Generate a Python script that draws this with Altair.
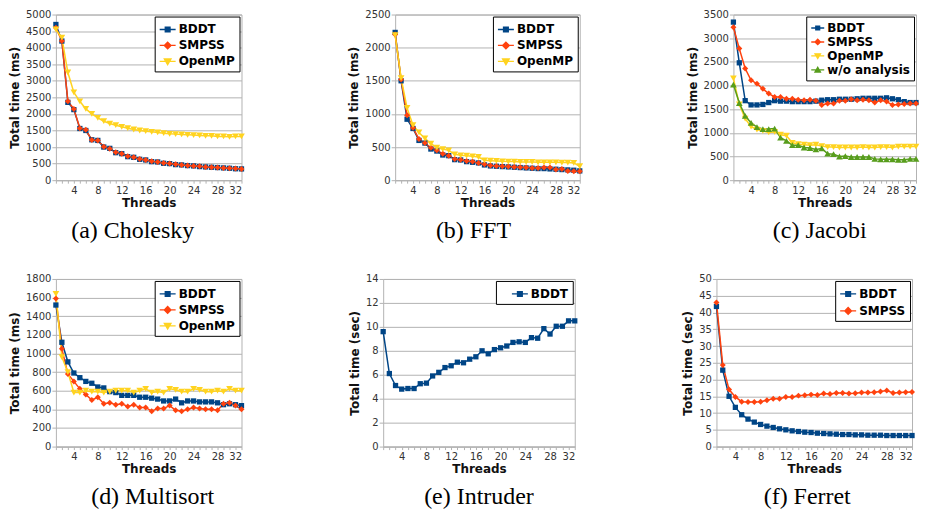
import altair as alt
import pandas as pd

threads = list(range(1, 33))

# (a) Cholesky (ms)
chol_bddt = [4700, 4200, 2350, 2130, 1560, 1500, 1220, 1200, 1000, 960, 830, 800, 710, 690, 630, 610,
             560, 550, 510, 500, 470, 460, 440, 430, 410, 400, 390, 380, 370, 360, 345, 340]
chol_smpss = [4600, 4200, 2380, 2150, 1570, 1520, 1210, 1200, 1010, 950, 840, 800, 720, 690, 640, 610,
              570, 550, 520, 500, 480, 460, 440, 430, 420, 400, 390, 380, 370, 360, 350, 340]
chol_omp = [4550, 4300, 3250, 2650, 2380, 2150, 2000, 1880, 1780, 1710, 1660, 1610, 1570, 1530, 1500, 1480,
            1460, 1440, 1420, 1400, 1390, 1380, 1370, 1360, 1350, 1340, 1340, 1320, 1320, 1310, 1320, 1320]

# (b) FFT (ms)
fft_bddt = [2230, 1500, 920, 780, 600, 560, 470, 440, 380, 370, 310, 305, 280, 270, 260, 230,
            215, 210, 205, 200, 195, 190, 185, 180, 175, 175, 170, 165, 160, 155, 150, 140]
fft_smpss = [2200, 1520, 980, 790, 620, 560, 490, 450, 400, 370, 320, 310, 290, 280, 260, 240,
             220, 215, 210, 205, 200, 195, 190, 185, 185, 190, 190, 160, 170, 140, 135, 135]
fft_omp = [2190, 1540, 1090, 830, 720, 630, 550, 490, 470, 450, 390, 375, 370, 360, 350, 300,
           295, 290, 285, 280, 280, 275, 275, 275, 270, 270, 270, 270, 265, 265, 260, 210]

# (c) Jacobi (ms)
jac_bddt = [3340, 2480, 1680, 1590, 1590, 1600, 1640, 1680, 1670, 1670, 1660, 1660, 1660, 1660, 1670, 1690,
            1700, 1700, 1710, 1710, 1710, 1720, 1730, 1730, 1730, 1730, 1740, 1720, 1700, 1660, 1640, 1640]
jac_smpss = [3230, 2780, 2360, 2110, 2040, 1930, 1830, 1760, 1760, 1720, 1720, 1700, 1690, 1700, 1680, 1590,
             1620, 1620, 1680, 1680, 1710, 1690, 1700, 1690, 1640, 1690, 1660, 1590, 1600, 1610, 1620, 1620]
jac_omp = [2150, 1600, 1300, 1130, 1070, 1040, 1010, 1020, 960, 940, 790, 760, 750, 740, 750, 720,
           700, 700, 690, 690, 690, 690, 700, 690, 690, 700, 700, 690, 710, 710, 710, 710]
jac_woa = [2020, 1630, 1360, 1210, 1120, 1080, 1080, 1090, 900, 830, 740, 740, 690, 680, 650, 670,
           560, 550, 500, 510, 490, 490, 490, 490, 450, 440, 440, 440, 430, 430, 450, 450]

# (d) Multisort (ms)
ms_bddt = [1520, 1120, 910, 790, 740, 700, 680, 640, 630, 590, 580, 550, 550, 550, 530, 530,
           520, 510, 490, 490, 510, 470, 490, 490, 480, 480, 480, 470, 450, 460, 450, 440]
ms_smpss = [1590, 1050, 780, 700, 620, 560, 500, 530, 460, 470, 450, 460, 430, 450, 420, 420,
            380, 410, 410, 440, 390, 380, 400, 420, 410, 400, 400, 390, 460, 470, 440, 400]
ms_omp = [1640, 960, 800, 580, 580, 600, 590, 590, 580, 590, 600, 600, 600, 580, 600, 620,
          580, 590, 580, 620, 610, 590, 590, 620, 610, 590, 590, 600, 590, 620, 600, 600]

# (e) Intruder (sec)
intr_bddt = [9.6, 6.1, 5.1, 4.8, 4.85, 4.85, 5.25, 5.3, 5.9, 6.2, 6.6, 6.75, 7.05, 7.0, 7.3, 7.5,
             8.0, 7.75, 8.1, 8.25, 8.4, 8.7, 8.75, 8.7, 9.1, 9.05, 9.85, 9.4, 10.05, 10.05, 10.5, 10.5]

# (f) Ferret (sec)
fer_bddt = [41.8, 22.8, 15.0, 11.7, 9.5, 8.2, 7.3, 6.6, 6.1, 5.7, 5.3, 5.0, 4.7, 4.5, 4.3, 4.2,
            4.0, 3.9, 3.8, 3.7, 3.6, 3.6, 3.5, 3.5, 3.4, 3.4, 3.4, 3.3, 3.3, 3.3, 3.3, 3.3]
fer_smpss = [43.0, 24.3, 17.0, 14.8, 13.4, 13.3, 13.3, 13.4, 13.8, 14.3, 14.3, 14.8, 14.8, 15.2, 15.3, 15.5,
             15.4, 15.8, 15.7, 16.0, 16.0, 15.8, 15.9, 16.1, 16.1, 16.2, 16.4, 16.7, 16.0, 16.1, 16.2, 16.3]

COLORS = {"BDDT": "#004586", "SMPSS": "#ff420e", "OpenMP": "#ffd320", "w/o analysis": "#579d1c"}
SHAPES = {"BDDT": "square", "SMPSS": "diamond", "OpenMP": "triangle-down", "w/o analysis": "triangle-up"}
MSIZE = {"BDDT": 28, "SMPSS": 36, "OpenMP": 45, "w/o analysis": 45}
PATHS = {
    "BDDT": "M-1,0H1M-0.3,-0.3H0.3V0.3H-0.3Z",
    "SMPSS": "M-1,0H1M0,-0.42L0.42,0L0,0.42L-0.42,0Z",
    "OpenMP": "M-1,0H1M-0.42,-0.32H0.42L0,0.4Z",
    "w/o analysis": "M-1,0H1M-0.42,0.32H0.42L0,-0.4Z",
}


def sig(mapping):
    keys = list(mapping)
    expr = "'%s'" % mapping[keys[-1]]
    for k in reversed(keys[:-1]):
        expr = "datum.value === '%s' ? '%s' : (%s)" % (k, mapping[k], expr)
    return expr


def frange(a, b, s):
    v = a
    out = []
    while v <= b + 1e-9:
        out.append(v)
        v += s
    return out


def panel(series, ymax, ystep, ytitle, caption, width, height, sym_size, row_pad, cap_dx,
          sym_offset=0, label_pad=""):
    rows = []
    for name, vals in series:
        for t, v in zip(threads, vals):
            rows.append({"Threads": t, "value": v, "series": name, "mk": "m_" + name,
                         "msize": MSIZE[name]})
    df = pd.DataFrame(rows)
    names = [n for n, _ in series]
    mnames = ["m_" + n for n in names]
    cscale = alt.Scale(domain=names, range=[COLORS[n] for n in names])
    fscale = alt.Scale(domain=mnames, range=[COLORS[n] for n in names])
    sscale = alt.Scale(domain=mnames, range=[SHAPES[n] for n in names])
    x = alt.X("Threads:Q", scale=alt.Scale(domain=[1, 32], nice=False, zero=False),
              axis=alt.Axis(values=threads, labelExpr="datum.value % 4 == 0 ? datum.label : ''",
                            grid=False, title="Threads", tickSize=3, labelPadding=2,
                            titlePadding=2, domainColor="#b3b3b3", tickColor="#b3b3b3"))
    y = alt.Y("value:Q", scale=alt.Scale(domain=[0, ymax], nice=False),
              axis=alt.Axis(values=frange(0, ymax, ystep), format="d", title=ytitle,
                            tickSize=4, labelPadding=1, titlePadding=4, domain=False,
                            gridColor="#b3b3b3", tickColor="#b3b3b3"))
    lkw = dict(title=None, orient="top-right", offset=2, strokeColor="black", fillColor="white",
               padding=4, labelFont="DejaVu Sans", labelFontWeight="bold", labelFontSize=12,
               labelColor="black", symbolSize=sym_size, rowPadding=row_pad, labelOffset=2,
               symbolOffset=sym_offset, cornerRadius=0)
    if label_pad:
        lkw["labelExpr"] = "datum.label + '%s'" % label_pad
    base = alt.Chart(df)
    lines = base.mark_line(strokeWidth=1.5).encode(
        x=x, y=y,
        color=alt.Color("series:N", scale=cscale, sort=names, legend=alt.Legend(**lkw)),
    )
    pts = base.mark_point(filled=True, opacity=1, strokeWidth=0).encode(
        x=x, y=y,
        fill=alt.Fill("mk:N", scale=fscale, sort=mnames, legend=None),
        shape=alt.Shape("mk:N", scale=sscale, sort=mnames, legend=None),
        size=alt.Size("msize:Q", scale=None, legend=None),
    )
    return alt.layer(lines, pts).properties(
        width=width, height=height,
        title=alt.TitleParams(text=caption, orient="bottom", font="Liberation Serif", fontSize=24,
                              fontWeight="normal", color="black", offset=11, anchor="middle",
                              dx=cap_dx),
    )


pa = panel([("BDDT", chol_bddt), ("SMPSS", chol_smpss), ("OpenMP", chol_omp)],
           5000, 500, "Total time (ms)", "(a) Cholesky", 186, 166, 256, 1, -16)
pb = panel([("BDDT", fft_bddt), ("SMPSS", fft_smpss), ("OpenMP", fft_omp)],
           2500, 500, "Total time (ms)", "(b) FFT", 185, 166, 256, 1, -14)
pc = panel([("BDDT", jac_bddt), ("SMPSS", jac_smpss), ("OpenMP", jac_omp), ("w/o analysis", jac_woa)],
           3500, 500, "Total time (ms)", "(c) Jacobi", 183, 166, 169, 0, -5)
pd_ = panel([("BDDT", ms_bddt), ("SMPSS", ms_smpss), ("OpenMP", ms_omp)],
            1800, 200, "Total time (ms)", "(d) Multisort", 186, 168, 256, 1, 4)
pe = panel([("BDDT", intr_bddt)],
           14, 2, "Total time (sec)", "(e) Intruder", 192, 168, 256, 0, 0,
           sym_offset=11, label_pad="   ")
pf = panel([("BDDT", fer_bddt), ("SMPSS", fer_smpss)],
           50, 5, "Total time (sec)", "(f) Ferret", 196, 168, 256, 2, -7)

res = dict(color="independent", shape="independent", fill="independent",
           x="independent", y="independent")
lres = dict(color="independent", shape="independent", fill="independent")
r1 = alt.hconcat(pa, pb, pc, spacing=102).resolve_scale(**res).resolve_legend(**lres)
r2 = alt.hconcat(pd_, pe, pf, spacing=102).resolve_scale(**res).resolve_legend(**lres)
chart = alt.vconcat(r1, r2, spacing=29).resolve_scale(**res).resolve_legend(**lres)
chart = chart.properties(padding={"left": 0, "top": 0, "right": 0, "bottom": 0}).configure(
    font="DejaVu Sans"
).configure_view(stroke="#b3b3b3", strokeWidth=1).configure_axis(
    labelFont="DejaVu Sans", labelFontSize=10, labelColor="#333333",
    titleFont="DejaVu Sans", titleFontSize=12, titleFontWeight="bold", titleColor="#111111",
    gridColor="#b3b3b3", gridWidth=1,
)

# legend symbols drawn as "line through marker", like the original
LEG_ENCODE = {"symbols": {"update": {
    "shape": {"signal": sig(PATHS)},
    "fill": {"signal": sig(COLORS)},
    "stroke": {"signal": sig(COLORS)},
    "strokeWidth": {"value": 1.3},
    "opacity": {"value": 1},
}}}


def inject(obj):
    if isinstance(obj, dict):
        for k, v in obj.items():
            if k == "legend" and isinstance(v, dict) and "symbolSize" in v:
                v["encode"] = LEG_ENCODE
            else:
                inject(v)
    elif isinstance(obj, list):
        for v in obj:
            inject(v)


_orig_to_dict = chart.to_dict


def _patched_to_dict(*args, **kwargs):
    d = _orig_to_dict(*args, **kwargs)
    inject(d)
    return d


try:
    object.__setattr__(chart, "to_dict", _patched_to_dict)
    chart.save("out.html", embed_options={"renderer": "svg", "actions": False})
except Exception:
    object.__setattr__(chart, "to_dict", _orig_to_dict)
    chart.save("out.html", embed_options={"renderer": "svg", "actions": False})
